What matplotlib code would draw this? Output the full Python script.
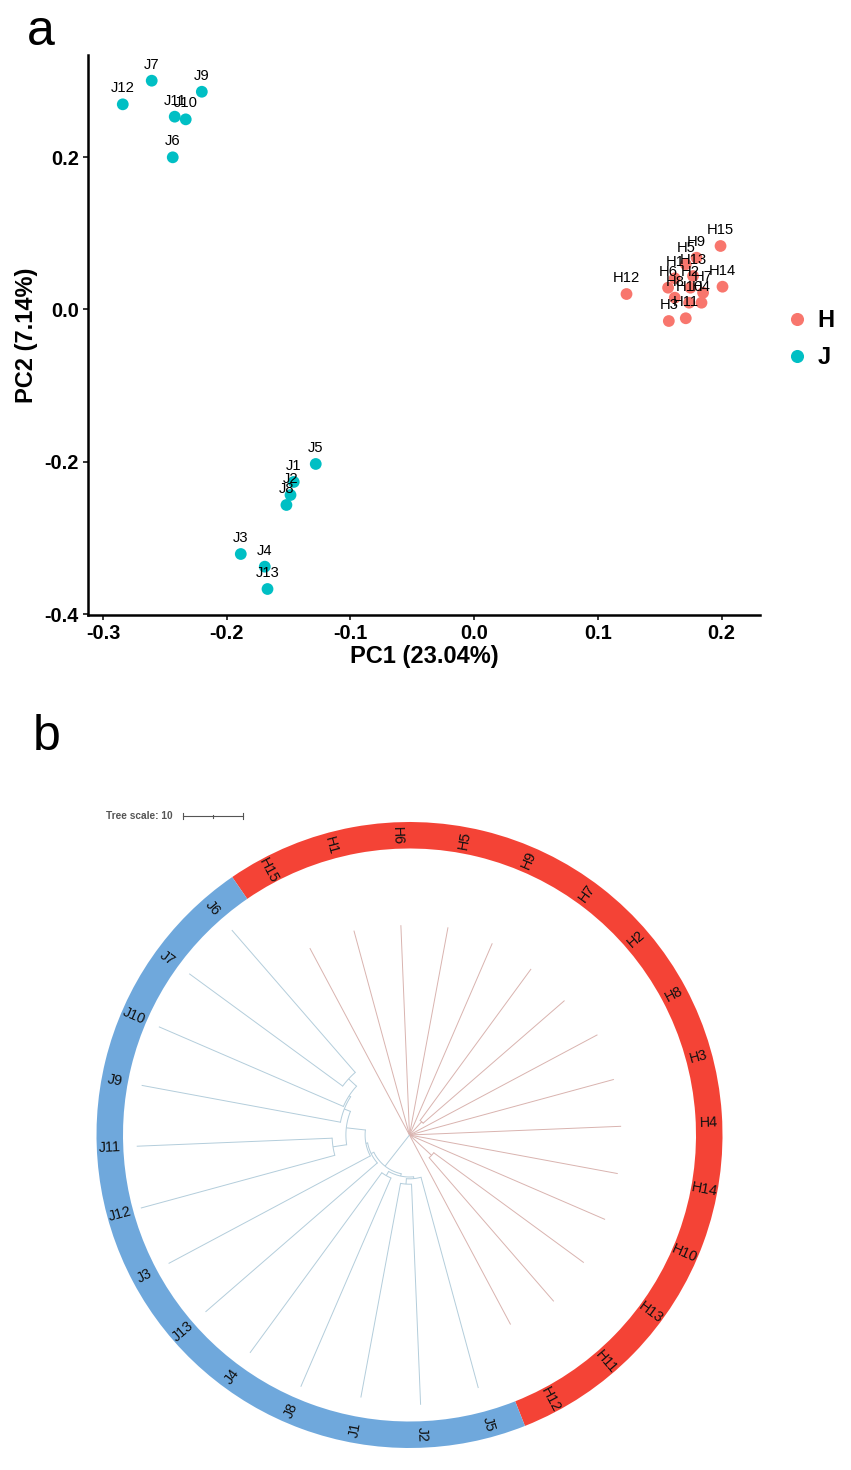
"""Two-panel figure: PCA of H/J samples (a) and circular tree with group ring (b)."""
import numpy as np
import matplotlib
matplotlib.use("Agg")
import matplotlib.pyplot as plt
from matplotlib.lines import Line2D
from matplotlib.patches import Wedge
from matplotlib.ticker import FormatStrFormatter

plt.rcParams.update({"font.family": ["Liberation Sans", "DejaVu Sans"],
                     "axes.unicode_minus": False})

# ---------------- panel a: PCA scores ----------------
H_NAMES = ["H1", "H2", "H3", "H4", "H5", "H6", "H7", "H8", "H9", "H10",
           "H11", "H12", "H13", "H14", "H15"]
H_PC1 = [0.1622, 0.1749, 0.1574, 0.1838, 0.1711, 0.1568, 0.1851, 0.1622,
         0.1798, 0.1738, 0.1711, 0.1232, 0.1770, 0.2008, 0.1992]
H_PC2 = [0.0409, 0.0286, -0.0151, 0.0089, 0.0593, 0.0286, 0.0220, 0.0155,
         0.0679, 0.0089, -0.0115, 0.0203, 0.0439, 0.0299, 0.0833]
J_NAMES = ["J1", "J2", "J3", "J4", "J5", "J6", "J7", "J8", "J9", "J10",
           "J11", "J12", "J13"]
J_PC1 = [-0.1458, -0.1484, -0.1886, -0.1692, -0.1280, -0.2436, -0.2606,
         -0.1517, -0.2201, -0.2331, -0.2420, -0.2840, -0.1670]
J_PC2 = [-0.2262, -0.2433, -0.3207, -0.3373, -0.2026, 0.1996, 0.3001,
         -0.2564, 0.2856, 0.2494, 0.2529, 0.2691, -0.3666]
PC1_LABEL = "PC1 (23.04%)"
PC2_LABEL = "PC2 (7.14%)"
X_TICKS = [-0.3, -0.2, -0.1, 0.0, 0.1, 0.2]
Y_TICKS = [0.2, 0.0, -0.2, -0.4]

# ---------------- panel b: tree ----------------
LEAF_ORDER = ["H15", "H1", "H6", "H5", "H9", "H7", "H2", "H8", "H3", "H4",
              "H14", "H10", "H13", "H11", "H12",
              "J5", "J2", "J1", "J8", "J4", "J13", "J3", "J12", "J11", "J9",
              "J10", "J7", "J6"]
LEAF_TIP = [35.3, 35.3, 35.0, 35.2, 34.8, 34.3, 34.2, 35.5, 35.3, 35.3,
            35.3, 35.5, 36.0, 36.7, 35.8,
            43.7, 45.0, 44.5, 45.7, 45.0, 45.0, 45.5, 46.4, 45.5, 45.4,
            45.5, 45.5, 45.2]
# internal nodes: (name, children, distance from root in tree units)
CLADES = [("cH72", ["H7", "H2"], 3.0),
          ("cH1311", ["H13", "H11"], 5.0),
          ("n1", ["J6", "J7"], 13.8),
          ("n2", ["n1", "J10"], 12.0),
          ("n3", ["n2", "J9"], 11.7),
          ("n4", ["J11", "J12"], 12.9),
          ("n5", ["n3", "n4"], 10.6),
          ("n6", ["n5", "J3"], 7.4),
          ("n7", ["n6", "J13"], 7.1),
          ("n8", ["J8", "J4"], 7.8),
          ("n9", ["J2", "J1"], 8.2),
          ("n10", ["n9", "J5"], 7.3),
          ("n11", ["n8", "n10"], 7.0),
          ("nJ", ["n7", "n11"], 6.6)]
ROOT_CHILDREN = ["H15", "H1", "H6", "H5", "H9", "cH72", "H8", "H3", "H4",
                 "H14", "H10", "cH1311", "H12", "nJ"]
TREE_SCALE = 10

COL_H, COL_J = "#F8766D", "#00BFC4"
RING_H, RING_J = "#F44336", "#6FA8DC"
LINE_H, LINE_J = "#d9b3af", "#b3cddb"

fig = plt.figure(figsize=(8.51, 14.70), dpi=100)
W, Hpx = 851, 1470

# ---- panel a
ax = fig.add_axes([88 / W, 1 - 615 / Hpx, 672 / W, 560 / Hpx])
ax.scatter(H_PC1, H_PC2, s=72, color=COL_H, edgecolors="none", zorder=3)
ax.scatter(J_PC1, J_PC2, s=72, color=COL_J, edgecolors="none", zorder=3)
for names, xs, ys in [(H_NAMES, H_PC1, H_PC2), (J_NAMES, J_PC1, J_PC2)]:
    for n, x, y in zip(names, xs, ys):
        ax.annotate(n, (x, y), xytext=(0, 11.5), textcoords="offset points",
                    ha="center", va="center", fontsize=10.6, zorder=4)
ax.set_xlim(-0.3121, 0.2311)
ax.set_ylim(-0.4007, 0.3338)
ax.set_xticks(X_TICKS)
ax.set_yticks(Y_TICKS)
ax.xaxis.set_major_formatter(FormatStrFormatter("%.1f"))
ax.yaxis.set_major_formatter(FormatStrFormatter("%.1f"))
for s in ("top", "right"):
    ax.spines[s].set_visible(False)
for s in ("left", "bottom"):
    ax.spines[s].set_linewidth(1.8)
ax.tick_params(direction="out", length=3.5, width=1.1, labelsize=14.3, pad=3)
for lab in ax.get_xticklabels() + ax.get_yticklabels():
    lab.set_fontweight("bold")
ax.set_xlabel(PC1_LABEL, fontsize=17, fontweight="bold")
ax.set_ylabel(PC2_LABEL, fontsize=17, fontweight="bold")
ax.xaxis.set_label_coords(0.5, -0.053)
ax.yaxis.set_label_coords(-0.074, 0.5)
handles = [Line2D([], [], ls="", marker="o", ms=8.4, color=COL_H, label="H"),
           Line2D([], [], ls="", marker="o", ms=8.4, color=COL_J, label="J")]
fig.legend(handles=handles, loc="center left", bbox_to_anchor=(785 / W, 1 - 339 / Hpx),
           frameon=False, prop={"weight": "bold", "size": 17}, handlelength=1,
           handletextpad=0.38, labelspacing=0.6, borderpad=0, borderaxespad=0)

fig.text(27 / W, 1 - 45 / Hpx, "a", fontsize=36, va="baseline", ha="left")
fig.text(33 / W, 1 - 750 / Hpx, "b", fontsize=36, va="baseline", ha="left")

# ---- panel b: circular tree, 6 px per tree unit, centre at (409.5, 1135) px
PX = 6.0
cx, cy = 409.5, 1135
bx = fig.add_axes([0, 0, 1, 710 / Hpx])
bx.set_xlim(-cx / PX, (W - cx) / PX)
bx.set_ylim(-(Hpx - cy) / PX, (cy - 760) / PX)
bx.axis("off")

START = -34.5
STEP = 360 / len(LEAF_ORDER)
ang = {n: START + (i + 0.5) * STEP for i, n in enumerate(LEAF_ORDER)}
rad = dict(zip(LEAF_ORDER, LEAF_TIP))
kids = {}
for name, ch, r in CLADES:
    kids[name] = ch
    rad[name] = r
    ang[name] = np.mean([ang[c] for c in ch])
kids["root"] = ROOT_CHILDREN
rad["root"] = 0.0


def first_leaf(n):
    while n in kids:
        n = kids[n][0]
    return n


def pt(r, a):
    t = np.deg2rad(a)
    return r * np.sin(t), r * np.cos(t)


def draw(node, r0):
    c = LINE_H if first_leaf(node).startswith("H") else LINE_J
    a = ang[node]
    x0, y0 = pt(r0, a)
    x1, y1 = pt(rad[node], a)
    bx.plot([x0, x1], [y0, y1], color=c, lw=0.7, solid_capstyle="butt")
    if node in kids:
        ca = [ang[k] for k in kids[node]]
        th = np.linspace(min(ca), max(ca), 60)
        ax_, ay_ = pt(rad[node], th)
        bx.plot(ax_, ay_, color=c, lw=0.7)
        for k in kids[node]:
            draw(k, rad[node])


for k in kids["root"]:
    draw(k, 0.0)

R_OUT, R_IN = 313 / PX, 286.5 / PX
n_h = sum(1 for n in LEAF_ORDER if n.startswith("H"))
a_split = START + n_h * STEP
bx.add_patch(Wedge((0, 0), R_OUT, 90 - a_split, 90 - START,
                   width=R_OUT - R_IN, color=RING_H, lw=0))
bx.add_patch(Wedge((0, 0), R_OUT, 90 - (START + 360), 90 - a_split,
                   width=R_OUT - R_IN, color=RING_J, lw=0))
for n in LEAF_ORDER:
    a = ang[n] % 360
    x, y = pt((R_OUT + R_IN) / 2, a)
    rot = 90 - a if 0 <= a < 180 else 270 - a
    bx.text(x, y, n, rotation=rot, rotation_mode="anchor", ha="center",
            va="center", fontsize=10.4, color="#111111")

# tree scale bar
sx0, sy = (183 - cx) / PX, (cy - 816) / PX
sx1 = sx0 + TREE_SCALE
bx.plot([sx0, sx1], [sy, sy], color="#555555", lw=0.8)
for xx, hh in [(sx0, 0.45), (sx1, 0.45), ((sx0 + sx1) / 2, 0.25)]:
    bx.plot([xx, xx], [sy - hh, sy + hh], color="#555555", lw=0.8)
bx.text(sx0 - 1.8, sy, f"Tree scale: {TREE_SCALE}", ha="right", va="center",
        fontsize=7.3, fontweight="bold", color="#555555")

fig.savefig("out.png", dpi=100)
